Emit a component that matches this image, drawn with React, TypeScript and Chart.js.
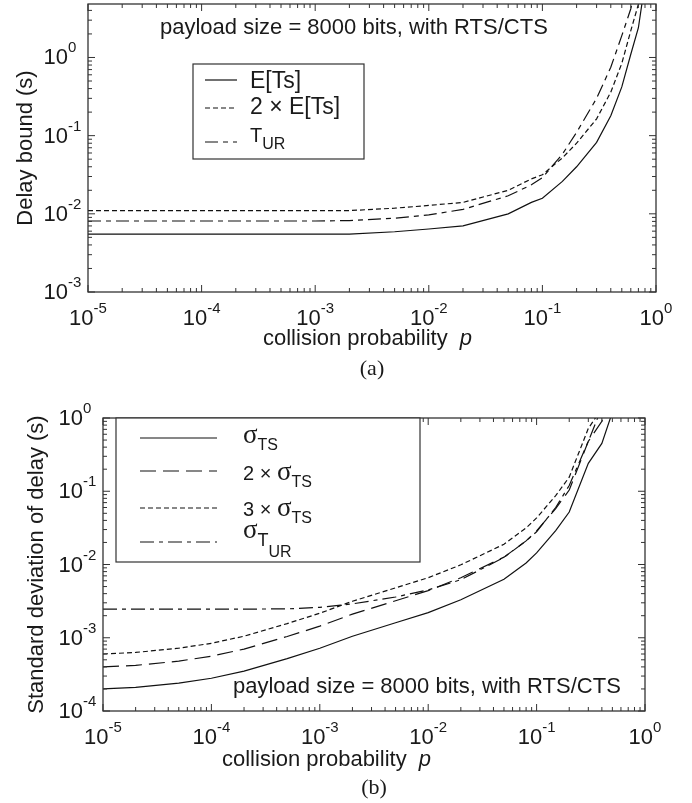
import { useEffect, useRef } from "react";
import { Chart, registerables } from "chart.js";

Chart.register(...registerables);

const SANS = '"Liberation Sans", Arial, Helvetica, sans-serif';
const SERIF = '"Liberation Serif", "Times New Roman", serif';
const INK = "#1a1a1a";

// ---------- (a) delay bound ----------
const pA = [1e-5, 1e-4, 1e-3, 2e-3, 5e-3, 0.01, 0.02, 0.05, 0.08, 0.1, 0.15, 0.2, 0.3, 0.4, 0.5, 0.6, 0.7, 0.8];
const ETs = [0.0055, 0.0055, 0.0055, 0.0055, 0.0059, 0.0064, 0.007, 0.01, 0.014, 0.0158, 0.026, 0.04, 0.082, 0.18, 0.42, 1.1, 2.4, 9];
const twoETs = [0.011, 0.011, 0.011, 0.011, 0.0118, 0.0128, 0.014, 0.02, 0.028, 0.0316, 0.052, 0.08, 0.164, 0.36, 0.84, 2.2, 4.8, 18];
const TURa = [0.0081, 0.0081, 0.0081, 0.0082, 0.0088, 0.0097, 0.0114, 0.017, 0.0235, 0.029, 0.058, 0.11, 0.3, 0.75, 1.9, 4.2, 12, 30];

// ---------- (b) standard deviation ----------
const pB = [1e-5, 2e-5, 5e-5, 1e-4, 2e-4, 5e-4, 1e-3, 2e-3, 5e-3, 0.01, 0.02, 0.05, 0.08, 0.1, 0.15, 0.2, 0.3, 0.4, 0.5];
const sigTS = [0.0002, 0.00021, 0.00024, 0.00028, 0.00035, 0.00052, 0.00072, 0.00105, 0.0016, 0.0022, 0.0033, 0.0063, 0.0105, 0.0144, 0.029, 0.052, 0.24, 0.45, 1.2];
const twoSig = [0.0004, 0.00042, 0.00048, 0.00056, 0.0007, 0.00104, 0.00144, 0.0021, 0.0032, 0.0044, 0.0066, 0.0126, 0.021, 0.0288, 0.058, 0.104, 0.48, 0.9, 2.4];
const threeSig = [0.0006, 0.00063, 0.00072, 0.00084, 0.00105, 0.00156, 0.00216, 0.00315, 0.0048, 0.0066, 0.0099, 0.0189, 0.0315, 0.0432, 0.087, 0.156, 0.72, 1.35, 3.6];
const TURb = [0.00246, 0.00246, 0.00246, 0.00246, 0.00246, 0.00248, 0.0026, 0.0029, 0.0036, 0.0045, 0.0062, 0.0125, 0.021, 0.028, 0.06, 0.12, 0.48, 1.4, 4];

const xTickExps = [-5, -4, -3, -2, -1, 0];
const yTickExpsA = [-3, -2, -1, 0];
const yTickExpsB = [-4, -3, -2, -1, 0];

const annotation = "payload size = 8000 bits, with RTS/CTS";
const xTitleMain = "collision probability";
const xTitleVar = "p";

type Run = { t: string; size: number; family?: string; dy?: number; style?: string };

function drawRuns(ctx: CanvasRenderingContext2D, x: number, y: number, runs: Run[]) {
  let cx = x;
  for (const r of runs) {
    ctx.font = `${r.style ? r.style + " " : ""}${r.size}px ${r.family || SANS}`;
    ctx.fillText(r.t, cx, y + (r.dy || 0));
    cx += ctx.measureText(r.t).width;
  }
}

type LegendRow = { y: number; dash: number[]; runs: Run[]; ty: number };
type Decor = {
  yExps: number[];
  yTitle: string;
  yTitleX: number;
  xTitleX: number;
  xTitleY: number;
  caption: string;
  captionY: number;
  annX: number;
  annY: number;
  legendBox: [number, number, number, number];
  sample: [number, number];
  textX: number;
  rows: LegendRow[];
};

function makeDecor(d: Decor) {
  return {
    id: "decor",
    afterDraw(chart: any) {
      const ctx: CanvasRenderingContext2D = chart.ctx;
      const xs = chart.scales.x;
      const ys = chart.scales.y;
      const { left, right, top, bottom } = chart.chartArea;
      ctx.save();
      ctx.strokeStyle = "#333";
      ctx.lineWidth = 1.3;
      ctx.setLineDash([]);
      ctx.strokeRect(left, top, right - left, bottom - top);
      ctx.lineWidth = 1;
      ctx.beginPath();
      for (let e = -5; e <= 0; e++) {
        for (let m = 1; m <= 9; m++) {
          const v = m * Math.pow(10, e);
          if (v < xs.min * 0.999 || v > xs.max * 1.001) continue;
          const px = xs.getPixelForValue(v);
          const len = m === 1 ? 7 : 4;
          ctx.moveTo(px, bottom);
          ctx.lineTo(px, bottom - len);
          ctx.moveTo(px, top);
          ctx.lineTo(px, top + len);
        }
      }
      const e0 = Math.floor(Math.log10(ys.min));
      const e1 = Math.ceil(Math.log10(ys.max));
      for (let e = e0; e <= e1; e++) {
        for (let m = 1; m <= 9; m++) {
          const v = m * Math.pow(10, e);
          if (v < ys.min * 0.999 || v > ys.max * 1.001) continue;
          const py = ys.getPixelForValue(v);
          const len = m === 1 ? 7 : 4;
          ctx.moveTo(left, py);
          ctx.lineTo(left + len, py);
          ctx.moveTo(right, py);
          ctx.lineTo(right - len, py);
        }
      }
      ctx.stroke();

      ctx.fillStyle = INK;
      ctx.textBaseline = "alphabetic";
      ctx.textAlign = "left";
      for (const e of xTickExps) {
        const px = xs.getPixelForValue(Math.pow(10, e));
        ctx.font = `22px ${SANS}`;
        const w1 = ctx.measureText("10").width;
        ctx.font = `15px ${SANS}`;
        const w2 = ctx.measureText(String(e)).width;
        const sx = px - (w1 + w2) / 2;
        ctx.font = `22px ${SANS}`;
        ctx.fillText("10", sx, bottom + 33);
        ctx.font = `15px ${SANS}`;
        ctx.fillText(String(e), sx + w1, bottom + 21);
      }
      for (const e of d.yExps) {
        const py = ys.getPixelForValue(Math.pow(10, e));
        ctx.font = `22px ${SANS}`;
        const w1 = ctx.measureText("10").width;
        const ex = left - 20;
        ctx.fillText("10", ex - w1, py + 7);
        ctx.font = `15px ${SANS}`;
        ctx.fillText(String(e), ex, py - 5);
      }
      ctx.font = `22px ${SANS}`;
      ctx.fillText(xTitleMain, d.xTitleX, d.xTitleY);
      const wMain = ctx.measureText(xTitleMain + "  ").width;
      ctx.font = `italic 22px ${SANS}`;
      ctx.fillText(xTitleVar, d.xTitleX + wMain, d.xTitleY);
      ctx.save();
      ctx.translate(d.yTitleX, (top + bottom) / 2);
      ctx.rotate(-Math.PI / 2);
      ctx.textAlign = "center";
      ctx.textBaseline = "middle";
      ctx.font = `22px ${SANS}`;
      ctx.fillText(d.yTitle, 0, 0);
      ctx.restore();
      ctx.textAlign = "center";
      ctx.font = `22px ${SERIF}`;
      ctx.fillText(d.caption, (left + right) / 2, d.captionY);
      ctx.textAlign = "left";
      ctx.font = `22px ${SANS}`;
      ctx.fillText(annotation, d.annX, d.annY);
      const [bx, by, bw, bh] = d.legendBox;
      ctx.fillStyle = "#fff";
      ctx.fillRect(bx, by, bw, bh);
      ctx.strokeStyle = "#333";
      ctx.lineWidth = 1.2;
      ctx.strokeRect(bx, by, bw, bh);
      ctx.fillStyle = INK;
      for (const r of d.rows) {
        ctx.strokeStyle = "#111";
        ctx.lineWidth = 1.2;
        ctx.setLineDash(r.dash);
        ctx.beginPath();
        ctx.moveTo(d.sample[0], r.y);
        ctx.lineTo(d.sample[1], r.y);
        ctx.stroke();
        ctx.setLineDash([]);
        drawRuns(ctx, d.textX, r.ty, r.runs);
      }
      ctx.restore();
    },
  };
}

type Series = { p: number[]; v: number[]; dash: number[] };

function buildConfig(series: Series[], lay: { padTop: number; padRight: number; yW: number; xH: number; ymin: number; ymax: number }, decor: any) {
  return {
    type: "line" as const,
    data: {
      datasets: series.map((s) => ({
        data: s.p.map((p, i) => ({ x: p, y: s.v[i] })),
        borderColor: "#111",
        borderWidth: 1.2,
        borderDash: s.dash,
        pointRadius: 0,
        fill: false,
        tension: 0,
      })),
    },
    options: {
      animation: false as const,
      responsive: false,
      maintainAspectRatio: false,
      devicePixelRatio: 1,
      layout: { padding: { left: 0, top: lay.padTop, right: lay.padRight, bottom: 0 } },
      plugins: { legend: { display: false }, tooltip: { enabled: false } },
      scales: {
        x: {
          type: "logarithmic" as const,
          min: 1e-5,
          max: 1,
          grid: { display: false },
          border: { display: false },
          ticks: { display: false },
          afterFit: (s: any) => {
            s.height = lay.xH;
          },
        },
        y: {
          type: "logarithmic" as const,
          min: lay.ymin,
          max: lay.ymax,
          grid: { display: false },
          border: { display: false },
          ticks: { display: false },
          afterFit: (s: any) => {
            s.width = lay.yW;
          },
        },
      },
    },
    plugins: [decor],
  };
}

function ChartCanvas({ config, width, height }: { config: any; width: number; height: number }) {
  const ref = useRef<HTMLCanvasElement>(null);
  useEffect(() => {
    if (!ref.current) return;
    const c = new Chart(ref.current, config);
    return () => c.destroy();
  }, [config]);
  return <canvas ref={ref} width={width} height={height} style={{ display: "block", width, height }} />;
}

const dashShort = [5, 3];
const dashDotA = [13, 5, 5, 5];
const dashLong = [16, 7];
const dashDotB = [14, 5, 4, 5];

const decorA = makeDecor({
  yExps: yTickExpsA,
  yTitle: "Delay bound (s)",
  yTitleX: 26,
  xTitleX: 263,
  xTitleY: 345,
  caption: "(a)",
  captionY: 375,
  annX: 160,
  annY: 34,
  legendBox: [193, 64, 171, 95],
  sample: [205, 237],
  textX: 250,
  rows: [
    { y: 80, dash: [], ty: 88, runs: [{ t: "E[Ts]", size: 23 }] },
    { y: 108, dash: dashShort, ty: 114, runs: [{ t: "2 × E[Ts]", size: 23 }] },
    { y: 142, dash: dashDotA, ty: 142, runs: [{ t: "T", size: 20 }, { t: "UR", size: 16, dy: 7 }] },
  ],
});

const decorB = makeDecor({
  yExps: yTickExpsB,
  yTitle: "Standard deviation of delay (s)",
  yTitleX: 37,
  xTitleX: 222,
  xTitleY: 366,
  caption: "(b)",
  captionY: 394,
  annX: 233,
  annY: 293,
  legendBox: [116, 18, 304, 144],
  sample: [140, 217],
  textX: 243,
  rows: [
    { y: 38, dash: [], ty: 43, runs: [{ t: "σ", size: 27, family: SERIF }, { t: "TS", size: 16, dy: 7 }] },
    { y: 71, dash: dashLong, ty: 80, runs: [{ t: "2 × ", size: 20 }, { t: "σ", size: 27, family: SERIF }, { t: "TS", size: 16, dy: 7 }] },
    { y: 108, dash: dashShort, ty: 116, runs: [{ t: "3 × ", size: 20 }, { t: "σ", size: 27, family: SERIF }, { t: "TS", size: 16, dy: 7 }] },
    { y: 142, dash: dashDotB, ty: 138, runs: [{ t: "σ", size: 27, family: SERIF }, { t: "T", size: 18, dy: 8 }, { t: "UR", size: 16, dy: 19 }] },
  ],
});

const configA = buildConfig(
  [
    { p: pA, v: ETs, dash: [] },
    { p: pA, v: twoETs, dash: dashShort },
    { p: pA, v: TURa, dash: dashDotA },
  ],
  { padTop: 4, padRight: 36, yW: 88, xH: 108, ymin: 1e-3, ymax: 4.83 },
  decorA
);

const configB = buildConfig(
  [
    { p: pB, v: sigTS, dash: [] },
    { p: pB, v: twoSig, dash: dashLong },
    { p: pB, v: threeSig, dash: dashShort },
    { p: pB, v: TURb, dash: dashDotB },
  ],
  { padTop: 18, padRight: 47, yW: 103, xH: 92, ymin: 1e-4, ymax: 1 },
  decorB
);

export default function App() {
  return (
    <div style={{ position: "absolute", left: 0, top: 0, width: 692, height: 803, background: "#fff" }}>
      <ChartCanvas config={configA} width={692} height={400} />
      <ChartCanvas config={configB} width={692} height={403} />
    </div>
  );
}
